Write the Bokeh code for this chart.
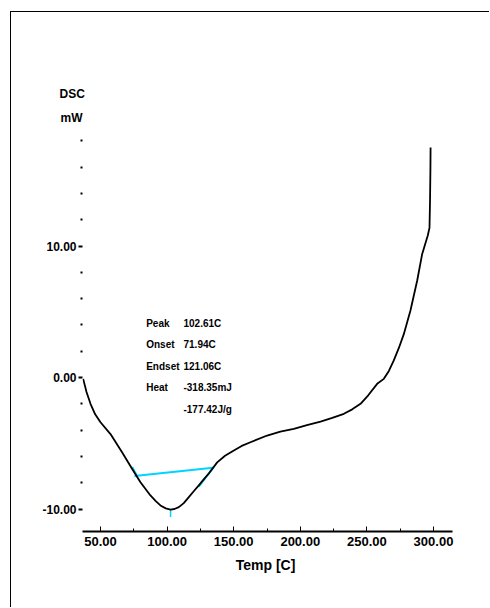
from bokeh.plotting import figure
from bokeh.models import FixedTicker, NumeralTickFormatter, Range1d, Title
from bokeh.embed import file_html
from bokeh.resources import INLINE
from bokeh.core.properties import value

# DSC curve (Temp [C], DSC [mW])
temp = [37.0, 39.5, 42.5, 46.0, 50.0, 57.5, 66.3, 73.8, 80.0, 87.5, 91.5,
        95.0, 99.0, 102.6, 105.5, 108.8, 112.5, 116.3, 120.0, 123.8, 127.5,
        131.3, 137.6, 143.5, 150.1, 156.0, 162.6, 175.1, 185.0, 195.1, 205.0,
        215.2, 224.0, 232.7, 239.0, 245.2, 251.0, 257.7, 262.7, 266.5, 270.2,
        274.0, 277.7, 282.7, 287.8, 291.5, 295.7, 297.0, 297.4, 297.7, 297.8]
dsc = [-0.1, -1.1, -2.0, -2.8, -3.4, -4.3, -5.7, -6.95, -7.96, -8.97, -9.4,
       -9.73, -9.95, -10.04, -10.0, -9.86, -9.55, -9.1, -8.65, -8.2, -7.75,
       -7.3, -6.45, -5.95, -5.55, -5.2, -4.92, -4.41, -4.12, -3.9, -3.62,
       -3.35, -3.07, -2.76, -2.42, -2.0, -1.35, -0.48, -0.1, 0.5, 1.3,
       2.25, 3.3, 5.1, 7.4, 9.4, 10.8, 11.4, 13.5, 16.0, 17.5]

# integration baseline, tangents, peak marker
base_t = [75.5, 134.6]
base_v = [-7.49, -6.87]
tan_l_t = [73.8, 77.5]
tan_l_v = [-6.8, -7.5]
tan_r_t = [123.8, 135.1]
tan_r_v = [-8.3, -6.8]
peak_t = [102.6, 102.6]
peak_v = [-10.04, -10.6]

x_ticks = [50, 100, 150, 200, 250, 300]
x_minor = [75, 125, 175, 225, 275]
y_ticks = [-10, 0, 10]
y_minor = [-8, -6, -4, -2, 2, 4, 6, 8, 12, 14, 16, 18]

ann_names = ["Peak", "Onset", "Endset", "Heat", ""]
ann_values = ["102.61C", "71.94C", "121.06C", "-318.35mJ", "-177.42J/g"]
ann_v = [4.13, 2.51, 0.84, -0.76, -2.43]
ann_name_x = 84.3
ann_value_x = 112.3

FONT = "Liberation Sans"

p = figure(width=479, height=596, output_backend="svg", toolbar_location=None,
           x_range=Range1d(36.49, 314.26), y_range=Range1d(-11.71, 18.94),
           min_border_left=71, min_border_right=38, min_border_top=116,
           min_border_bottom=77)
p.styles = {"position": "relative", "left": "10px", "top": "11px",
            "border-left": "1px solid black", "border-top": "1px solid black"}
p.outline_line_color = None
p.grid.visible = False
p.background_fill_color = "white"
p.border_fill_color = "white"

# x axis
xa = p.xaxis[0]
xa.ticker = FixedTicker(ticks=x_ticks, minor_ticks=x_minor)
xa.formatter = NumeralTickFormatter(format="0.00")
xa.axis_line_width = 2
xa.axis_line_color = "black"
xa.major_tick_in = 5
xa.major_tick_out = 0
xa.minor_tick_in = 3
xa.minor_tick_out = 0
xa.major_tick_line_color = "black"
xa.minor_tick_line_color = "black"
xa.major_label_standoff = 5
xa.major_label_text_font = FONT
xa.major_label_text_font_style = "bold"
xa.major_label_text_font_size = "13px"
xa.major_label_text_color = "black"
xa.axis_label = "Temp  [C]"
xa.axis_label_text_font = FONT
xa.axis_label_text_font_style = "bold"
xa.axis_label_text_font_size = "14px"
xa.axis_label_text_color = "black"
xa.axis_label_standoff = 8

# y axis
ya = p.yaxis[0]
ya.ticker = FixedTicker(ticks=y_ticks, minor_ticks=y_minor)
ya.formatter = NumeralTickFormatter(format="0.00")
ya.axis_line_color = None
ya.major_tick_out = 4
ya.major_tick_in = 0
ya.major_tick_line_width = 2
ya.major_tick_line_color = "black"
ya.minor_tick_out = 2
ya.minor_tick_in = 0
ya.minor_tick_line_width = 2
ya.minor_tick_line_color = "black"
ya.major_label_standoff = 2
ya.major_label_text_font = FONT
ya.major_label_text_font_style = "bold"
ya.major_label_text_font_size = "12px"
ya.major_label_text_color = "black"

# analysis lines
cyan = "#00d4ff"
p.line(tan_l_t, tan_l_v, line_color=cyan, line_width=2)
p.line(tan_r_t, tan_r_v, line_color=cyan, line_width=2)
p.line(base_t, base_v, line_color=cyan, line_width=2)
p.line(peak_t, peak_v, line_color=cyan, line_width=1.5)

# DSC curve
p.line(temp, dsc, line_color="black", line_width=1.8, line_join="round")

# annotation table
p.text(x=[ann_name_x] * len(ann_names), y=ann_v, text=ann_names,
       text_font=value(FONT), text_font_style="bold", text_font_size="10px",
       text_baseline="middle", text_align="left", text_color="black")
p.text(x=[ann_value_x] * len(ann_values), y=ann_v, text=ann_values,
       text_font=value(FONT), text_font_style="bold", text_font_size="10px",
       text_baseline="middle", text_align="left", text_color="black")

# y-axis unit label (stacked above the frame, first added is nearest)
p.add_layout(Title(text="mW", align="left", offset=-22, standoff=8,
                   text_font=FONT, text_font_style="bold",
                   text_font_size="12px", text_color="black"), "above")
p.add_layout(Title(text="DSC", align="left", offset=-23, standoff=8,
                   text_font=FONT, text_font_style="bold",
                   text_font_size="12px", text_color="black"), "above")

open("out.html", "w").write(file_html(p, INLINE))
